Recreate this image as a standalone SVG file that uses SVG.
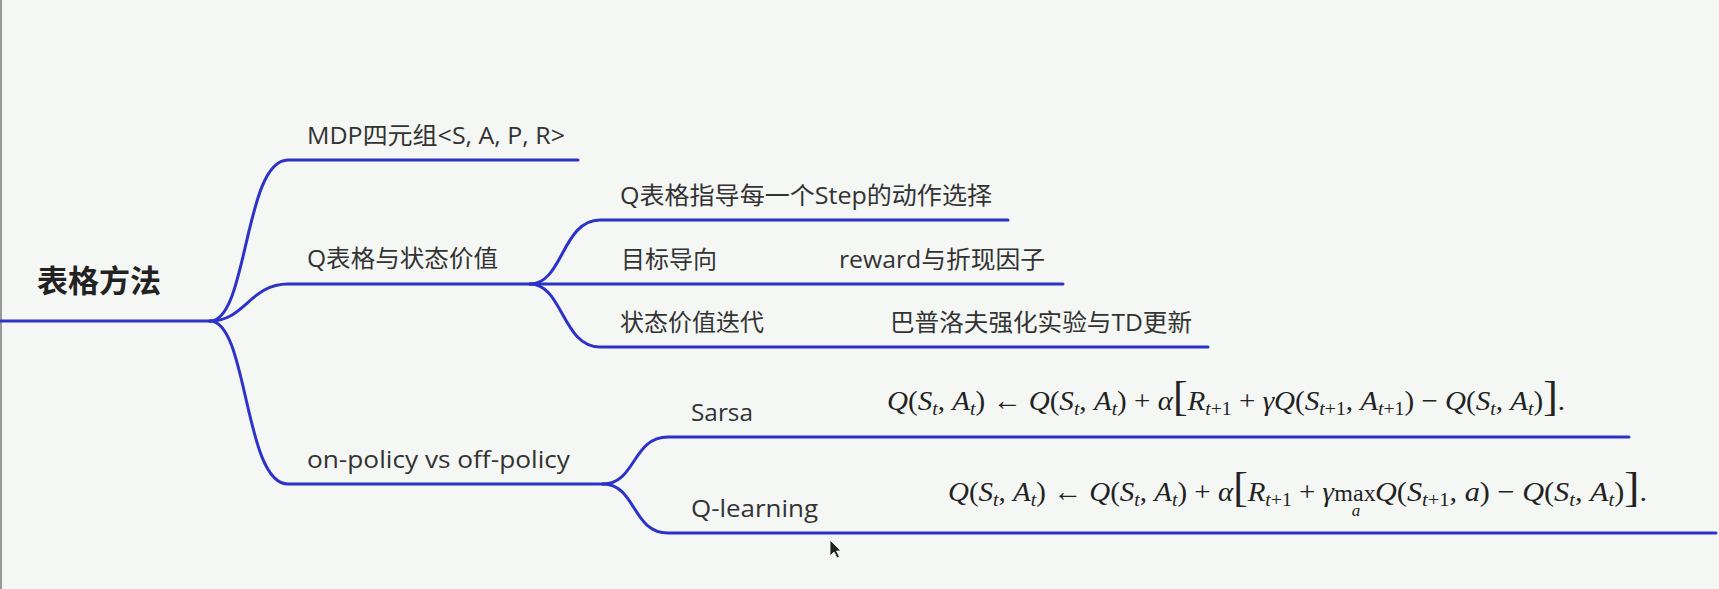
<svg xmlns="http://www.w3.org/2000/svg" width="1719" height="589" viewBox="0 0 1719 589">
<style>
.edge{fill:none;stroke:#2d32c8;stroke-width:3;stroke-linecap:round;stroke-linejoin:round}
.t{font-family:"Open Sans","Noto Sans CJK SC",sans-serif;font-size:24px;fill:#333}
.root{font-family:"Noto Sans CJK SC","Noto Sans",sans-serif;font-size:31px;font-weight:bold;fill:#222}
.m{font-family:"Liberation Serif","DejaVu Serif",serif;font-size:28px;fill:#222}
.i{font-style:italic}
.s{font-size:19px}
.b{font-size:42px;font-style:normal}
</style>
<rect width="1719" height="589" fill="#f4f7f4"/>
<line x1="1" y1="0" x2="1" y2="589" stroke="#999" stroke-width="2"/>
<g id="connectors">
<path class="edge" d="M0,321 L210,321"/>
<path class="edge" d="M210,321 C248,321 244,160 288,160 L578,160"/>
<path class="edge" d="M210,321 C245,321 250,284 288,284 L530,284"/>
<path class="edge" d="M210,321 C248,321 244,484 288,484 L603,484"/>
<path class="edge" d="M530,284 C563,284 562,220 600,220 L1008,220"/>
<path class="edge" d="M530,284 L1063,284"/>
<path class="edge" d="M530,284 C563,284 562,347 600,347 L1208,347"/>
<path class="edge" d="M603,484 C636,484 632,437 668,437 L1629,437"/>
<path class="edge" d="M603,484 C636,484 632,533 668,533 L1716,533"/>
</g>
<g id="root"><text class="root" x="37" y="292">表格方法</text></g>
<g id="n-mdp"><text class="t" x="307" y="144" textLength="258" lengthAdjust="spacingAndGlyphs">MDP四元组&lt;S, A, P, R&gt;</text></g>
<g id="n-qtable"><text class="t" x="307" y="267" textLength="191" lengthAdjust="spacingAndGlyphs">Q表格与状态价值</text></g>
<g id="n-policy"><text class="t" x="307" y="468" textLength="263" lengthAdjust="spacingAndGlyphs">on-policy vs off-policy</text></g>
<g id="n-qstep"><text class="t" x="620" y="204" textLength="372" lengthAdjust="spacingAndGlyphs">Q表格指导每一个Step的动作选择</text></g>
<g id="n-goal"><text class="t" x="621" y="268">目标导向</text><text class="t" x="839" y="268" textLength="206" lengthAdjust="spacingAndGlyphs">reward与折现因子</text></g>
<g id="n-iter"><text class="t" x="620" y="331">状态价值迭代</text><text class="t" x="890" y="331" textLength="302" lengthAdjust="spacingAndGlyphs">巴普洛夫强化实验与TD更新</text></g>
<g id="n-sarsa"><text class="t" x="691" y="421" textLength="62" lengthAdjust="spacingAndGlyphs">Sarsa</text>
<text class="m" x="887" y="410" textLength="678" lengthAdjust="spacingAndGlyphs"><tspan class="i">Q</tspan>(<tspan class="i">S</tspan><tspan class="s i" dy="5">t</tspan><tspan dy="-5">, </tspan><tspan class="i">A</tspan><tspan class="s i" dy="5">t</tspan><tspan dy="-5">) ← </tspan><tspan class="i">Q</tspan>(<tspan class="i">S</tspan><tspan class="s i" dy="5">t</tspan><tspan dy="-5">, </tspan><tspan class="i">A</tspan><tspan class="s i" dy="5">t</tspan><tspan dy="-5">) + </tspan><tspan class="i">α</tspan><tspan class="b">[</tspan><tspan class="i">R</tspan><tspan class="s" dy="5"><tspan class="i">t</tspan>+1</tspan><tspan dy="-5"> + </tspan><tspan class="i">γQ</tspan>(<tspan class="i">S</tspan><tspan class="s" dy="5"><tspan class="i">t</tspan>+1</tspan><tspan dy="-5">, </tspan><tspan class="i">A</tspan><tspan class="s" dy="5"><tspan class="i">t</tspan>+1</tspan><tspan dy="-5">) − </tspan><tspan class="i">Q</tspan>(<tspan class="i">S</tspan><tspan class="s i" dy="5">t</tspan><tspan dy="-5">, </tspan><tspan class="i">A</tspan><tspan class="s i" dy="5">t</tspan><tspan dy="-5">)</tspan><tspan class="b">]</tspan>.</text>
</g>
<g id="n-qlearning"><text class="t" x="691" y="517" textLength="127" lengthAdjust="spacingAndGlyphs">Q-learning</text>
<text class="m" x="948" y="501" textLength="386" lengthAdjust="spacingAndGlyphs"><tspan class="i">Q</tspan>(<tspan class="i">S</tspan><tspan class="s i" dy="5">t</tspan><tspan dy="-5">, </tspan><tspan class="i">A</tspan><tspan class="s i" dy="5">t</tspan><tspan dy="-5">) ← </tspan><tspan class="i">Q</tspan>(<tspan class="i">S</tspan><tspan class="s i" dy="5">t</tspan><tspan dy="-5">, </tspan><tspan class="i">A</tspan><tspan class="s i" dy="5">t</tspan><tspan dy="-5">) + </tspan><tspan class="i">α</tspan><tspan class="b">[</tspan><tspan class="i">R</tspan><tspan class="s" dy="5"><tspan class="i">t</tspan>+1</tspan><tspan dy="-5"> + </tspan><tspan class="i">γ</tspan></text>
<text class="m" x="1355" y="501" text-anchor="middle" style="font-size:24px">max</text>
<text class="m i" x="1356" y="516" text-anchor="middle" style="font-size:17px">a</text>
<text class="m" x="1375" y="501" textLength="272" lengthAdjust="spacingAndGlyphs"><tspan class="i">Q</tspan>(<tspan class="i">S</tspan><tspan class="s" dy="5"><tspan class="i">t</tspan>+1</tspan><tspan dy="-5">, </tspan><tspan class="i">a</tspan>) − <tspan class="i">Q</tspan>(<tspan class="i">S</tspan><tspan class="s i" dy="5">t</tspan><tspan dy="-5">, </tspan><tspan class="i">A</tspan><tspan class="s i" dy="5">t</tspan><tspan dy="-5">)</tspan><tspan class="b">]</tspan>.</text>
</g>
<path d="M830,540 L830,556 L834,552 L837,558 L839.5,557 L836.5,551 L841,551 Z" fill="#222" stroke="#fff" stroke-width="0.8"/>
</svg>
